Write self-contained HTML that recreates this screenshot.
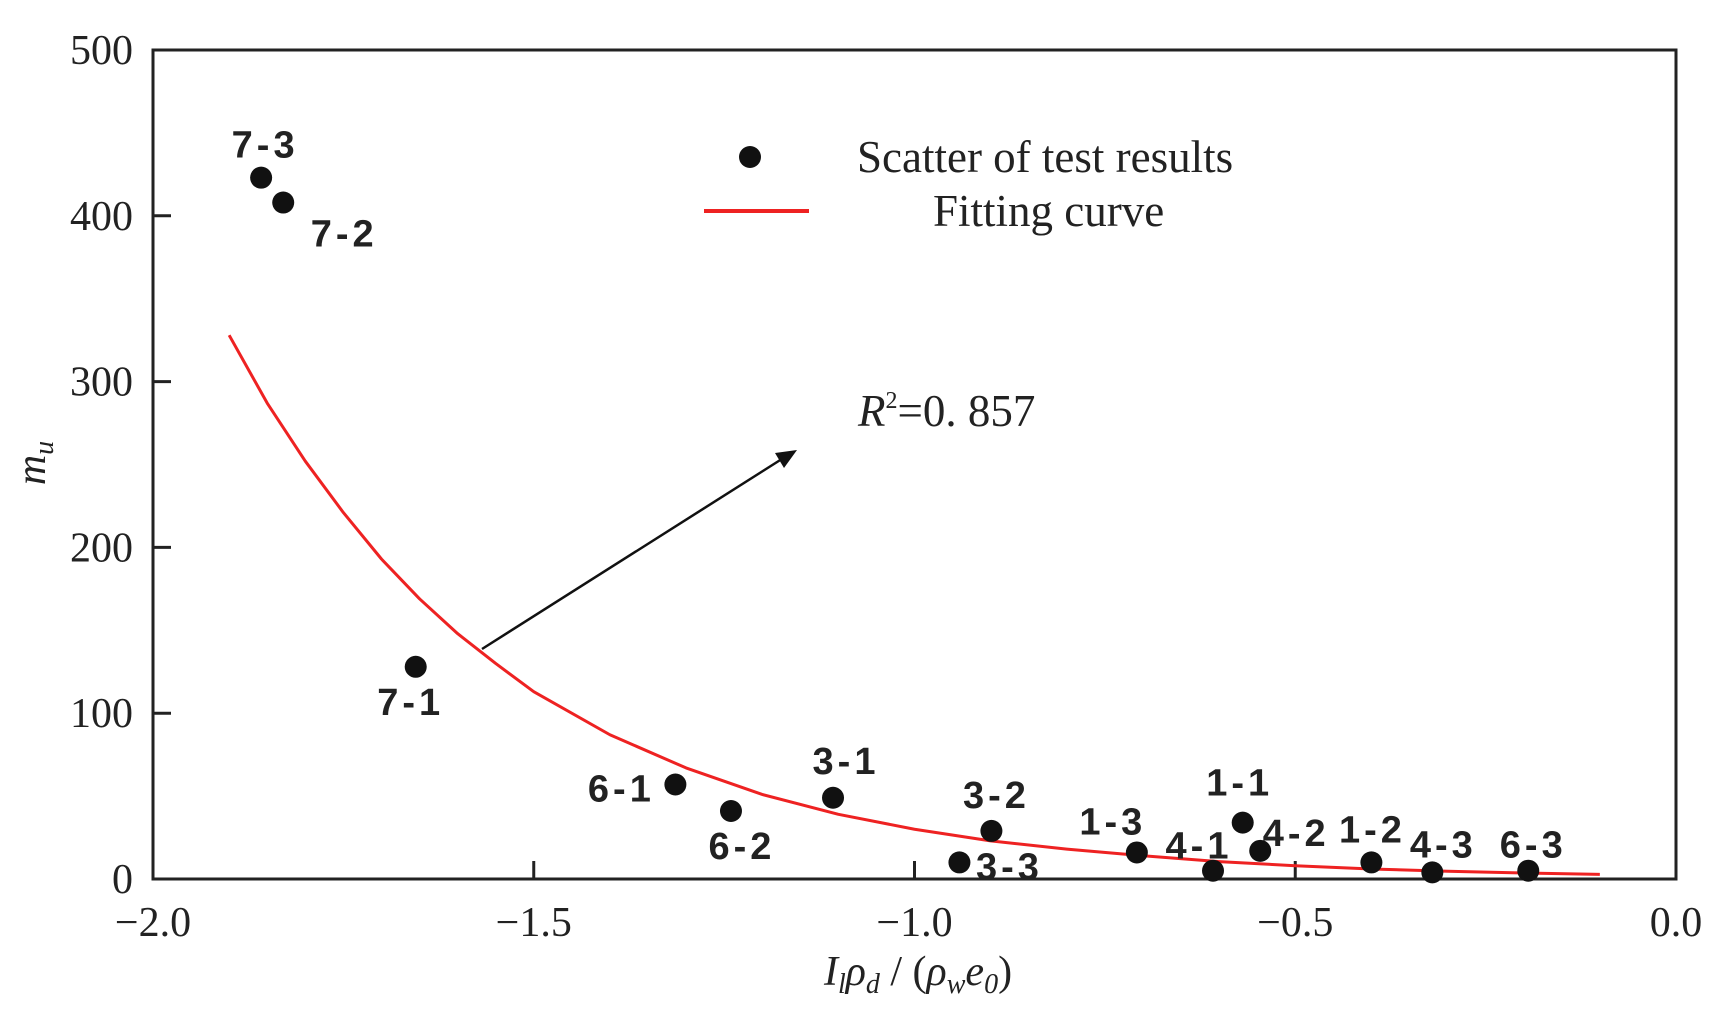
<!DOCTYPE html>
<html><head><meta charset="utf-8"><style>
body{margin:0;background:#fff}
svg{display:block}
.tk{font-family:"Liberation Serif",serif;font-size:42px;fill:#222}
.lb{font-family:"Liberation Sans",sans-serif;font-weight:bold;font-size:38px;fill:#222;letter-spacing:4px}
.lg{font-family:"Liberation Serif",serif;font-size:45px;fill:#222}
</style></head><body>
<svg id="chart" width="1733" height="1034" xmlns="http://www.w3.org/2000/svg">
<rect x="153" y="50" width="1523" height="829" fill="none" stroke="#222" stroke-width="3"/>
<g id="ticks"></g><g id="curve"></g><g id="pts"></g>
<g>
<circle cx="750" cy="157" r="11" fill="#111"/>
<text class="lg" x="857" y="172">Scatter of test results</text>
<line x1="704" y1="211" x2="809" y2="211" stroke="#e22" stroke-width="4"/>
<text class="lg" x="933" y="226">Fitting curve</text>
</g>
<text class="lg" x="858" y="426"><tspan font-style="italic">R</tspan><tspan font-size="24" dy="-18">2</tspan><tspan dy="18">=0. 857</tspan></text>
<line x1="482" y1="649" x2="785" y2="457" stroke="#111" stroke-width="2.5"/>
<polygon points="797,450 775,453 784,468" fill="#111"/>
<text class="tk" transform="translate(45,463) rotate(-90)" text-anchor="middle" font-style="italic">m<tspan font-size="28" dy="8">u</tspan></text>
<text class="tk" x="918" y="985" text-anchor="middle" font-style="italic">I<tspan font-size="28" dy="8">l</tspan><tspan dy="-8">ρ</tspan><tspan font-size="28" dy="8">d</tspan><tspan dy="-8" font-style="normal"> / (</tspan>ρ<tspan font-size="28" dy="8">w</tspan><tspan dy="-8">e</tspan><tspan font-size="28" dy="8">0</tspan><tspan dy="-8" font-style="normal">)</tspan></text>
</svg>
<script>
const xTicks=[-2.0,-1.5,-1.0,-0.5,0.0];
const xTickLabels=["\u22122.0","\u22121.5","\u22121.0","\u22120.5","0.0"];
const yTicks=[0,100,200,300,400,500];
const yTickLabels=["0","100","200","300","400","500"];
const ptNames=["7-3","7-2","7-1","6-1","6-2","3-1","3-3","3-2","1-3","4-1","1-1","4-2","1-2","4-3","6-3"];
const ptX=[-1.858,-1.829,-1.655,-1.314,-1.241,-1.107,-0.941,-0.899,-0.708,-0.608,-0.569,-0.546,-0.400,-0.320,-0.194];
const ptY=[423,408,128,57,41,49,10,29,16,5,34,17,10,4,5];
const lblDx=[4,61,-5,-54,11,13,50,5,-24,-14,-3,36,1,11,5];
const lblDy=[-34,30,34,3,34,-38,3,-37,-32,-26,-41,-19,-34,-29,-27];
const curveX=[-1.9,-1.85,-1.8,-1.75,-1.7,-1.65,-1.6,-1.55,-1.5,-1.4,-1.3,-1.2,-1.1,-1.0,-0.9,-0.8,-0.7,-0.6,-0.5,-0.4,-0.3,-0.2,-0.1];
const curveY=[328,287,252,221,193,169,148,130,113,87,67,51,39,30,23,18,14,10.5,8,6,4.7,3.6,2.8];
const NS="http://www.w3.org/2000/svg";
const X=v=>153+(v+2)/2*1523, Y=v=>879-v/500*829;
function mk(t,a,p){const e=document.createElementNS(NS,t);for(const k in a)e.setAttribute(k,a[k]);p.appendChild(e);return e;}
const tg=document.getElementById('ticks');
xTicks.forEach((v,i)=>{
 const l=mk('line',{x1:X(v),x2:X(v),y1:879,y2:861,stroke:'#222','stroke-width':3},tg);
 
 
 const t=mk('text',{x:X(v),y:936,'text-anchor':'middle',class:'tk'},tg);t.textContent=xTickLabels[i];
 
 
});
yTicks.forEach((v,i)=>{
 const l=mk('line',{x1:153,x2:171,y1:Y(v),y2:Y(v),stroke:'#222','stroke-width':3},tg);
 
 
 const t=mk('text',{x:133,y:Y(v)+14,'text-anchor':'end',class:'tk'},tg);t.textContent=yTickLabels[i];
 
 
});
const cp=mk('polyline',{points:curveX.map((x,i)=>X(x)+','+Y(curveY[i])).join(' '),fill:'none',stroke:'#e22','stroke-width':3,'stroke-linejoin':'round'},document.getElementById('curve'));


const pg=document.getElementById('pts');
ptX.forEach((x,i)=>{
 const c=mk('circle',{cx:X(x),cy:Y(ptY[i]),r:11,fill:'#111'},pg);
 
 
 const t=mk('text',{x:X(x)+lblDx[i],y:Y(ptY[i])+lblDy[i]+14,'text-anchor':'middle',class:'lb'},pg);
 t.textContent=ptNames[i];
 
 
});
</script>
</body></html>
